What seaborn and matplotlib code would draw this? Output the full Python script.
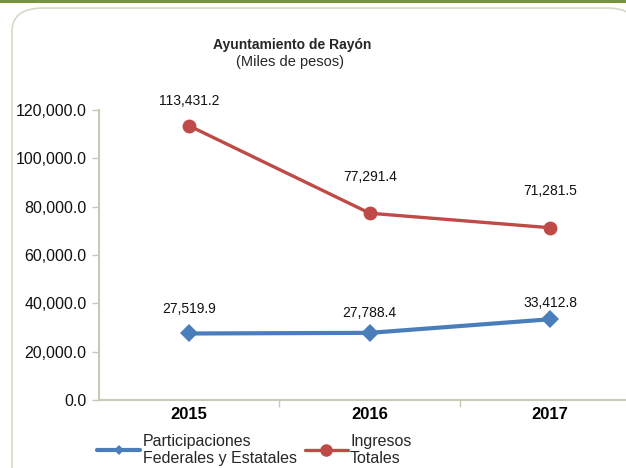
import pandas as pd
import matplotlib.pyplot as plt
import seaborn as sns
from matplotlib.patches import FancyBboxPatch
from matplotlib.lines import Line2D

anios = ['2015', '2016', '2017']
participaciones = [27519.9, 27788.4, 33412.8]
ingresos = [113431.2, 77291.4, 71281.5]
serie_part = 'Participaciones\nFederales y Estatales'
serie_ing = 'Ingresos\nTotales'

df = pd.DataFrame({
    'anio': anios * 2,
    'valor': participaciones + ingresos,
    'serie': [serie_part] * 3 + [serie_ing] * 3,
})

sns.set_theme(style='white')
plt.rcParams['font.family'] = ['Liberation Sans', 'DejaVu Sans']

azul = '#4A7EBB'
rojo = '#BE4B48'
eje = '#C9C9B8'

fig = plt.figure(figsize=(6.26, 4.68), dpi=100)

# marco redondeado y banda superior
fig.patches.append(FancyBboxPatch((12/626, -0.2), 1.0, 1.0 - 8/468 + 0.2,
                                  boxstyle='round,pad=0,rounding_size=0.05',
                                  transform=fig.transFigure, facecolor='white',
                                  edgecolor='#D6D8C8', linewidth=1.2, zorder=-5))
fig.patches.append(plt.Rectangle((0, 1 - 3/468), 1, 3/468, transform=fig.transFigure,
                                 facecolor='#77933C', edgecolor='none', zorder=-4))

ax = fig.add_axes([99/626, 68/468, 1 - 99/626, 290/468])
ax.set_zorder(2)
ax.patch.set_alpha(0)

sns.lineplot(data=df[df.serie == serie_part], x='anio', y='valor', ax=ax,
             color=azul, linewidth=3, marker='D', markersize=9, markeredgewidth=0)
sns.lineplot(data=df[df.serie == serie_ing], x='anio', y='valor', ax=ax,
             color=rojo, linewidth=2.4, marker='o', markersize=10, markeredgewidth=0)

ax.set_xlim(-0.5, 2.42)
ax.set_ylim(0, 120000)
ax.set_yticks(range(0, 120001, 20000))
ax.set_yticklabels([f'{v:,.1f}' for v in range(0, 120001, 20000)], fontsize=11.5, color='#111111')
ax.set_xticks(range(3))
ax.set_xticklabels(anios, fontsize=12, fontweight='bold', color='black')
ax.set_xlabel('')
ax.set_ylabel('')
for s in ['top', 'right']:
    ax.spines[s].set_visible(False)
for s in ['left', 'bottom']:
    ax.spines[s].set_color(eje)
    ax.spines[s].set_linewidth(1.5)
ax.tick_params(axis='y', length=5, color=eje, width=1, left=True, pad=4)
ax.tick_params(axis='x', length=0, pad=5)
ax.set_xticks([0.5, 1.5], minor=True)
ax.tick_params(axis='x', which='minor', length=5, color=eje, width=1, bottom=True)

off_part = [24, 20, 16]
off_ing = [25, 36, 37]
for i, v in enumerate(participaciones):
    ax.annotate(f'{v:,.1f}', (i, v), xytext=(0, off_part[i]), textcoords='offset pixels',
                ha='center', va='center', fontsize=10, color='#111111')
for i, v in enumerate(ingresos):
    ax.annotate(f'{v:,.1f}', (i, v), xytext=(0, off_ing[i]), textcoords='offset pixels',
                ha='center', va='center', fontsize=10, color='#111111')

fig.text(292/626, 1 - 45/468, 'Ayuntamiento de Rayón', ha='center', va='center',
         fontsize=10, fontweight='bold')
fig.text(290/626, 1 - 62/468, '(Miles de pesos)', ha='center', va='center', fontsize=10.5)

handles = [Line2D([], [], color=azul, linewidth=3, marker='D', markersize=5, markeredgewidth=0),
           Line2D([], [], color=rojo, linewidth=2.4, marker='o', markersize=9, markeredgewidth=0)]
fig.legend(handles, [serie_part, serie_ing], loc='center left', ncol=2,
           bbox_to_anchor=(97/626, 1 - 450/468), frameon=False, fontsize=11.5,
           handlelength=2.7, handletextpad=0.15, columnspacing=0.5, labelspacing=0,
           borderpad=0, borderaxespad=0)

fig.savefig('out.png', dpi=100)
